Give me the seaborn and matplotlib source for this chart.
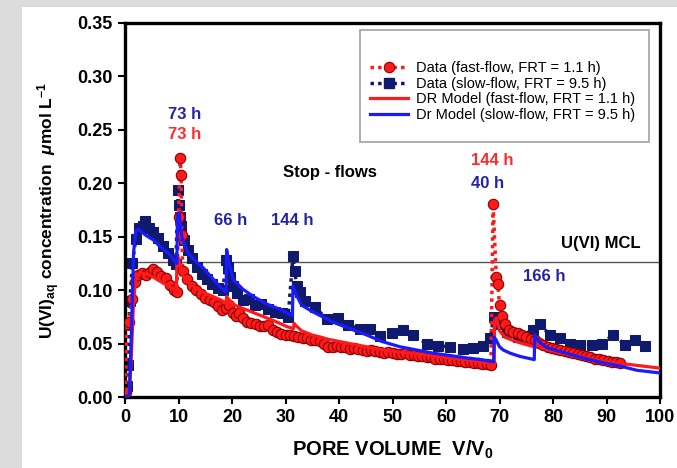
import numpy as np
import pandas as pd
import seaborn as sns
import matplotlib.pyplot as plt
from matplotlib.lines import Line2D
from matplotlib.patches import Rectangle

# fast-flow data (FRT = 1.1 h)
fast_pv = [0.1, 0.3, 0.8, 1.3, 1.8, 2.5, 3.2, 3.9, 4.6, 5.2, 6.0, 6.8, 7.6, 8.4, 9.1, 9.7,
           10.0, 10.3, 10.5, 10.6, 10.8, 11.6, 12.5, 13.3, 14.2, 15.0, 15.8, 16.6, 17.4, 18.1,
           18.8, 19.4, 20.1, 20.7, 21.4, 22.1, 22.8, 23.6, 24.4, 25.2, 26.0, 26.8, 27.6, 28.4,
           29.2, 30.0, 30.8, 31.6, 32.4, 33.2, 34.0, 34.8, 35.6, 36.4, 37.2, 38.0, 38.8, 39.6,
           40.4, 41.2, 42.0, 42.8, 43.6, 44.4, 45.2, 46.0, 46.8, 47.6, 48.4, 49.2, 50.0, 50.8,
           51.6, 52.4, 53.2, 54.0, 54.8, 55.6, 56.4, 57.2, 58.0, 58.8, 59.6, 60.4, 61.2, 62.0,
           62.8, 63.6, 64.4, 65.2, 66.0, 66.8, 67.6, 68.4, 68.8, 69.4, 69.7, 70.0, 70.4, 71.0,
           71.8, 72.6, 73.4, 74.2, 75.0, 75.8, 76.6, 77.4, 78.2, 79.0, 79.8, 80.6, 81.4, 82.2,
           83.0, 83.8, 84.6, 85.4, 86.2, 87.0, 87.8, 88.6, 89.4, 90.2, 91.0, 91.8, 92.5]
fast_conc = [0.005, 0.068, 0.070, 0.092, 0.108, 0.114, 0.116, 0.114, 0.117, 0.120, 0.117, 0.113,
             0.111, 0.105, 0.100, 0.098, 0.168, 0.224, 0.208, 0.152, 0.118, 0.110, 0.104, 0.100,
             0.096, 0.093, 0.091, 0.089, 0.085, 0.081, 0.083, 0.086, 0.079, 0.076, 0.079, 0.074,
             0.070, 0.069, 0.068, 0.066, 0.066, 0.067, 0.063, 0.061, 0.059, 0.058, 0.058, 0.057,
             0.056, 0.055, 0.055, 0.053, 0.053, 0.052, 0.050, 0.047, 0.047, 0.048, 0.047, 0.047,
             0.045, 0.046, 0.045, 0.044, 0.043, 0.044, 0.043, 0.042, 0.041, 0.042, 0.041, 0.040,
             0.040, 0.041, 0.039, 0.039, 0.038, 0.038, 0.037, 0.037, 0.036, 0.036, 0.036, 0.035,
             0.035, 0.034, 0.034, 0.033, 0.033, 0.032, 0.032, 0.031, 0.031, 0.030, 0.181, 0.112,
             0.106, 0.086, 0.076, 0.068, 0.063, 0.061, 0.060, 0.058, 0.056, 0.054, 0.053, 0.051,
             0.049, 0.047, 0.046, 0.045, 0.044, 0.043, 0.042, 0.041, 0.040, 0.039, 0.038, 0.037,
             0.036, 0.036, 0.035, 0.034, 0.033, 0.033, 0.032]

# slow-flow data (FRT = 9.5 h)
slow_pv = [0.0, 0.3, 0.5, 0.9, 1.4, 2.0, 2.6, 3.3, 3.8, 4.5, 5.3, 6.2, 7.1, 8.1, 9.0, 9.5,
           9.9, 10.1, 10.3, 10.5, 11.0, 11.7, 12.5, 13.4, 14.3, 15.3, 16.3, 17.3, 18.3, 18.9,
           19.3, 19.7, 20.2, 20.9, 22.0, 23.1, 24.3, 25.5, 26.8, 28.0, 29.4, 30.5, 31.4, 31.7,
           32.1, 32.7, 33.6, 35.5, 37.7, 39.9, 41.7, 43.9, 45.8, 47.7, 49.9, 52.0, 53.8, 56.4,
           58.5, 60.7, 63.2, 65.0, 66.9, 68.3, 68.9, 69.8, 71.4, 73.5, 76.3, 77.6, 79.4, 81.3,
           83.2, 85.0, 87.3, 89.2, 91.2, 93.5, 95.3, 97.2]
slow_conc = [0.005, 0.010, 0.030, 0.090, 0.125, 0.148, 0.158, 0.160, 0.165, 0.158, 0.154, 0.149,
             0.141, 0.135, 0.128, 0.124, 0.194, 0.180, 0.168, 0.160, 0.147, 0.138, 0.130, 0.122,
             0.115, 0.110, 0.106, 0.102, 0.100, 0.128, 0.122, 0.112, 0.104, 0.097, 0.091, 0.092,
             0.086, 0.087, 0.082, 0.080, 0.079, 0.075, 0.132, 0.118, 0.104, 0.098, 0.090, 0.084,
             0.073, 0.074, 0.067, 0.064, 0.064, 0.057, 0.060, 0.063, 0.058, 0.050, 0.048, 0.047,
             0.045, 0.046, 0.048, 0.055, 0.075, 0.068, 0.061, 0.056, 0.063, 0.068, 0.058, 0.055,
             0.050, 0.049, 0.049, 0.050, 0.058, 0.049, 0.053, 0.048]

# DR model, fast-flow
dr_fast_pv = [0.0, 0.8, 1.2, 1.6, 2.0, 2.5, 3.0, 4.0, 5.0, 6.0, 7.0, 8.0, 9.0, 9.6, 9.7, 10.0,
              10.5, 11.0, 11.6, 13.0, 14.6, 16.0, 17.8, 18.9, 19.0, 19.3, 20.0, 20.9, 22.5,
              24.0, 26.0, 28.0, 30.2, 31.5, 31.6, 31.9, 33.0, 35.0, 38.0, 42.0, 46.0, 50.0, 55.0,
              60.0, 65.0, 69.0, 69.1, 69.4, 70.0, 71.0, 73.0, 75.0, 76.6, 76.7, 77.0, 78.0, 80.0,
              85.0, 90.0, 95.0, 100.0]
dr_fast_conc = [0.0, 0.002, 0.040, 0.090, 0.110, 0.115, 0.116, 0.115, 0.113, 0.110, 0.107, 0.104,
                0.101, 0.099, 0.125, 0.130, 0.118, 0.112, 0.108, 0.103, 0.098, 0.095, 0.091, 0.088,
                0.094, 0.092, 0.088, 0.085, 0.082, 0.079, 0.075, 0.071, 0.066, 0.064, 0.069,
                0.067, 0.062, 0.058, 0.054, 0.050, 0.046, 0.043, 0.040, 0.037, 0.034, 0.031, 0.072,
                0.074, 0.062, 0.056, 0.052, 0.049, 0.047, 0.052, 0.050, 0.046, 0.043, 0.038, 0.033,
                0.030, 0.027]

# Dr model, slow-flow
dr_slow_pv = [0.0, 0.8, 1.2, 1.6, 2.0, 2.5, 3.0, 4.0, 5.3, 6.5, 7.5, 8.4, 9.3, 9.7, 9.8, 10.1,
              10.6, 11.6, 13.0, 14.6, 16.0, 17.8, 18.9, 19.0, 19.3, 20.2, 22.0, 24.0, 26.5, 29.0,
              31.3, 31.4, 31.8, 33.0, 35.0, 38.9, 42.0, 45.2, 48.0, 51.4, 54.5, 57.6, 60.5, 63.9,
              66.5, 68.9, 69.0, 69.3, 70.0, 70.7, 72.0, 73.8, 76.5, 76.6, 77.0, 77.8, 78.9, 81.0,
              83.2, 86.0, 89.4, 92.5, 95.7, 100.0]
dr_slow_conc = [0.0, 0.002, 0.060, 0.135, 0.155, 0.157, 0.155, 0.151, 0.147, 0.141, 0.137, 0.133,
                0.127, 0.125, 0.170, 0.172, 0.150, 0.136, 0.128, 0.121, 0.113, 0.103, 0.098, 0.138,
                0.128, 0.110, 0.101, 0.094, 0.087, 0.082, 0.076, 0.104, 0.098, 0.086, 0.080, 0.070,
                0.064, 0.058, 0.052, 0.047, 0.044, 0.041, 0.039, 0.0365, 0.035, 0.033, 0.056, 0.054,
                0.047, 0.044, 0.041, 0.038, 0.035, 0.058, 0.054, 0.050, 0.046, 0.043, 0.040, 0.036,
                0.032, 0.029, 0.025, 0.0225]

mcl = 0.126

red = "#ff1a1a"
red_edge = "#8a0000"
navy = "#0f1a6e"
blue = "#1a1aff"
lbl_blue = "#2323a8"
lbl_red = "#ff2a2a"

plt.rcParams["font.family"] = ["Liberation Sans", "DejaVu Sans"]
plt.rcParams["mathtext.fontset"] = "custom"
plt.rcParams["mathtext.rm"] = "Liberation Sans:bold"
plt.rcParams["mathtext.it"] = "Liberation Sans:italic:bold"
plt.rcParams["mathtext.bf"] = "Liberation Sans:bold"

fig = plt.figure(figsize=(6.77, 4.68), dpi=100, facecolor="#dcdcdc")
fig.patches.append(Rectangle((22 / 677, 0), 1, (468 - 7) / 468, transform=fig.transFigure,
                             facecolor="white", edgecolor="none", zorder=-5))
ax = fig.add_axes([125 / 677, 71 / 468, 535 / 677, 374 / 468])
ax.set_zorder(2)

fast_df = pd.DataFrame({"pv": fast_pv, "conc": fast_conc})
slow_df = pd.DataFrame({"pv": slow_pv, "conc": slow_conc})
mf_df = pd.DataFrame({"pv": dr_fast_pv, "conc": dr_fast_conc})
ms_df = pd.DataFrame({"pv": dr_slow_pv, "conc": dr_slow_conc})

ax.axhline(mcl, color="#555555", lw=1.0, zorder=1)

sns.lineplot(data=fast_df, x="pv", y="conc", ax=ax, estimator=None, sort=False, color=red,
             linestyle=(0, (1, 1.2)), lw=2.5, marker="o", markersize=7.5,
             markerfacecolor=red, markeredgecolor=red_edge, markeredgewidth=0.8, zorder=3)
sns.lineplot(data=slow_df, x="pv", y="conc", ax=ax, estimator=None, sort=False, color=navy,
             linestyle=(0, (1, 1.2)), lw=2.5, marker="s", markersize=6.5,
             markerfacecolor=navy, markeredgecolor=navy, zorder=2)
sns.lineplot(data=mf_df, x="pv", y="conc", ax=ax, estimator=None, sort=False, color=red,
             lw=2.3, zorder=4)
sns.lineplot(data=ms_df, x="pv", y="conc", ax=ax, estimator=None, sort=False, color=blue,
             lw=2.3, zorder=4)

ax.set_xlim(0, 100)
ax.set_ylim(0, 0.35)
ax.set_xticks(np.arange(0, 101, 10))
ax.set_yticks(np.arange(0, 0.351, 0.05))
ax.set_yticklabels([f"{v:.2f}" for v in np.arange(0, 0.351, 0.05)])
ax.tick_params(direction="out", length=5, width=1.5, labelsize=13, pad=4)
for t in ax.get_xticklabels() + ax.get_yticklabels():
    t.set_fontweight("bold")
for s in ax.spines.values():
    s.set_linewidth(2.4)
    s.set_color("black")

ax.set_xlabel(r"PORE VOLUME  V/V$_{\mathbf{0}}$", fontsize=14.5, fontweight="bold", labelpad=9)
ax.set_ylabel(r"U(VI)$_{\mathbf{aq}}$ concentration  $\mathit{\mu}$mol L$^{\mathbf{-1}}$",
              fontsize=12.5, fontweight="bold", labelpad=11)

# annotations
tk = dict(fontsize=12, fontweight="bold", ha="center", va="center")
ax.text(11.2, 0.264, "73 h", color=lbl_blue, **tk)
ax.text(11.2, 0.246, "73 h", color=lbl_red, **tk)
ax.text(19.8, 0.165, "66 h", color=lbl_blue, **tk)
ax.text(31.2, 0.165, "144 h", color=lbl_blue, **tk)
ax.text(38.3, 0.210, "Stop - flows", color="black", **tk)
ax.text(68.7, 0.221, "144 h", color=lbl_red, **tk)
ax.text(67.8, 0.200, "40 h", color=lbl_blue, **tk)
ax.text(78.3, 0.1125, "166 h", color=lbl_blue, **tk)
ax.text(96.3, 0.1435, "U(VI) MCL", color="black", fontsize=12, fontweight="bold",
        ha="right", va="center")

# legend
ax.add_patch(Rectangle((0.44, 0.682), 0.54, 0.3, transform=ax.transAxes, facecolor="white",
                       edgecolor="#a8a8a8", lw=1.3, zorder=5))
handles = [
    Line2D([], [], color=red, ls=(0, (1, 1.2)), lw=2.5, marker="o", markersize=7.5,
           markerfacecolor=red, markeredgecolor=red_edge, markeredgewidth=0.8),
    Line2D([], [], color=navy, ls=(0, (1, 1.2)), lw=2.5, marker="s", markersize=6.5),
    Line2D([], [], color=red, lw=2.3),
    Line2D([], [], color=blue, lw=2.3),
]
labels = ["Data (fast-flow, FRT = 1.1 h)", "Data (slow-flow, FRT = 9.5 h)",
          "DR Model (fast-flow, FRT = 1.1 h)", "Dr Model (slow-flow, FRT = 9.5 h)"]
leg = ax.legend(handles, labels, loc="upper left", bbox_to_anchor=(0.445, 0.918),
                frameon=False, fontsize=10.5, numpoints=1, handlelength=2.6,
                handletextpad=0.5, labelspacing=0.12, borderpad=0)
leg.set_zorder(6)

fig.savefig("out.png", dpi=100, facecolor=fig.get_facecolor())
